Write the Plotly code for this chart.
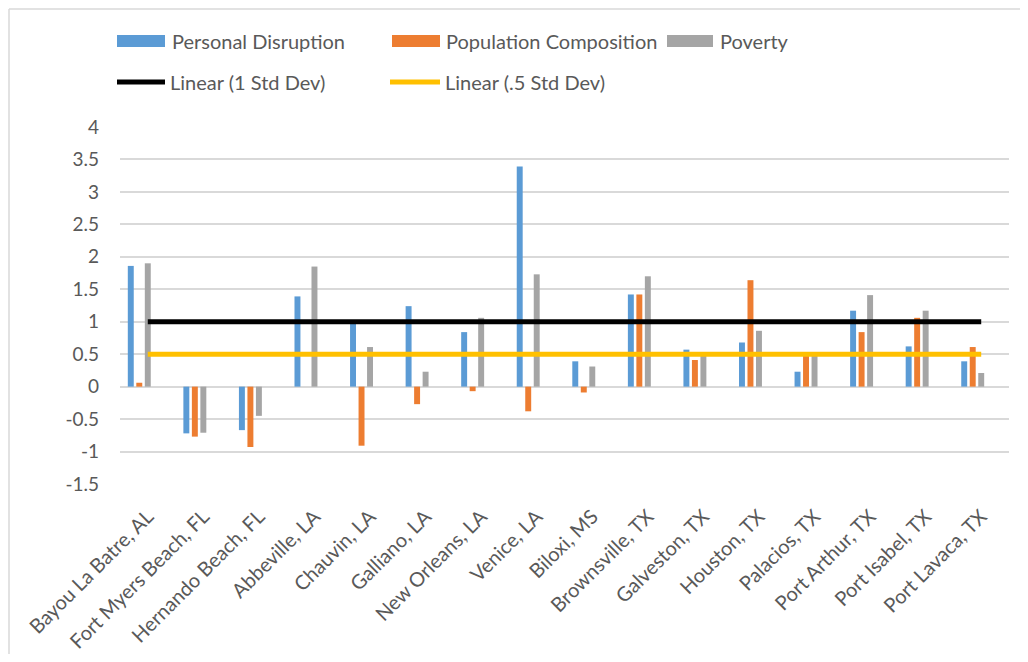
import plotly.graph_objects as go

categories = ["Bayou La Batre, AL", "Fort Myers Beach, FL", "Hernando Beach, FL", "Abbeville, LA",
              "Chauvin, LA", "Galliano, LA", "New Orleans, LA", "Venice, LA", "Biloxi, MS",
              "Brownsville, TX", "Galveston, TX", "Houston, TX", "Palacios, TX", "Port Arthur, TX",
              "Port Isabel, TX", "Port Lavaca, TX"]
personal_disruption = [1.86, -0.72, -0.67, 1.39, 0.99, 1.24, 0.84, 3.39, 0.39, 1.42, 0.57, 0.68, 0.23, 1.17, 0.62, 0.39]
population_composition = [0.06, -0.77, -0.93, 0.0, -0.91, -0.27, -0.07, -0.38, -0.09, 1.42, 0.41, 1.64, 0.50, 0.84, 1.06, 0.61]
poverty = [1.90, -0.71, -0.45, 1.85, 0.61, 0.23, 1.06, 1.73, 0.31, 1.70, 0.48, 0.86, 0.50, 1.41, 1.17, 0.21]
std_1 = [1, 1, 1, 1, 1, 1, 1, 1, 1, 1, 1, 1, 1, 1, 1, 1]
std_half = [0.5, 0.5, 0.5, 0.5, 0.5, 0.5, 0.5, 0.5, 0.5, 0.5, 0.5, 0.5, 0.5, 0.5, 0.5, 0.5]
y_tickvals = [-1.5, -1, -0.5, 0, 0.5, 1, 1.5, 2, 2.5, 3, 3.5, 4]
y_ticktext = ["-1.5", "-1", "-0.5", "0", "0.5", "1", "1.5", "2", "2.5", "3", "3.5", "4"]

BLUE, ORANGE, GRAY = "#5B9BD5", "#ED7D31", "#A5A5A5"
BLACK, YELLOW = "#000000", "#FFC000"
TXT = "#595959"
FONT = "Lato"
FS = 20

OFF = 8  # page body margin
W, H = 1028 - 2 * OFF, 662 - 2 * OFF
# plot area in screen pixels
SL, SR, ST, SB = 120, 1009, 127, 484
L, R, T, B = SL - OFF, SR - OFF, ST - OFF, SB - OFF

def px(x):  # screen x -> paper
    return (x - SL) / (SR - SL)

def py(y):  # screen y -> paper
    return (SB - y) / (SB - ST)

fig = go.Figure()
fig.add_trace(go.Bar(x=categories, y=personal_disruption, name="Personal Disruption", marker_color=BLUE))
fig.add_trace(go.Bar(x=categories, y=population_composition, name="Population Composition", marker_color=ORANGE))
fig.add_trace(go.Bar(x=categories, y=poverty, name="Poverty", marker_color=GRAY))
# the two std-dev series occupy bar slots (invisible), as in the source chart
fig.add_trace(go.Bar(x=categories, y=std_1, name="1 Std Dev", marker_color="rgba(0,0,0,0)", hoverinfo="skip"))
fig.add_trace(go.Bar(x=categories, y=std_half, name=".5 Std Dev", marker_color="rgba(0,0,0,0)", hoverinfo="skip"))
fig.add_trace(go.Scatter(x=categories, y=std_1, mode="lines", name="Linear (1 Std Dev)",
                         line=dict(color=BLACK, width=5)))
fig.add_trace(go.Scatter(x=categories, y=std_half, mode="lines", name="Linear (.5 Std Dev)",
                         line=dict(color=YELLOW, width=5)))

shapes = []
annotations = []
# outer chart frame: left and top edges
FR = "#D9D9D9"
shapes.append(dict(type="line", xref="paper", yref="paper", x0=px(OFF + 1), x1=px(OFF + 1),
                   y0=py(OFF + 1), y1=py(662), line=dict(color=FR, width=1.5), layer="below"))
shapes.append(dict(type="line", xref="paper", yref="paper", x0=px(OFF + 1), x1=px(1028),
                   y0=py(OFF + 1), y1=py(OFF + 1), line=dict(color=FR, width=1.5), layer="below"))

legend_items = [
    ("bar", BLUE, 117, 165, 41, 170, "Personal Disruption"),
    ("bar", ORANGE, 392, 440, 41, 444, "Population Composition"),
    ("bar", GRAY, 667, 713, 41, 718, "Poverty"),
    ("line", BLACK, 117, 165, 82, 168, "Linear (1 Std Dev)"),
    ("line", YELLOW, 390, 440, 82, 443, "Linear (.5 Std Dev)"),
]
for kind, col, x0, x1, yc, tx, label in legend_items:
    if kind == "bar":
        shapes.append(dict(type="rect", xref="paper", yref="paper", x0=px(x0), x1=px(x1),
                           y0=py(yc + 6), y1=py(yc - 6), line=dict(width=0), fillcolor=col))
    else:
        shapes.append(dict(type="line", xref="paper", yref="paper", x0=px(x0), x1=px(x1),
                           y0=py(yc), y1=py(yc), line=dict(color=col, width=5)))
    annotations.append(dict(xref="paper", yref="paper", x=px(tx), y=py(yc), text=label,
                            showarrow=False, xanchor="left", yanchor="middle",
                            font=dict(family=FONT, size=FS, color=TXT)))

fig.update_layout(
    template="none",
    width=W, height=H,
    margin=dict(l=L, r=W - R, t=T, b=H - B, pad=0),
    paper_bgcolor="white", plot_bgcolor="white",
    barmode="group", bargap=0.235, bargroupgap=0.3,
    showlegend=False,
    font=dict(family=FONT, size=FS, color=TXT),
    shapes=shapes, annotations=annotations,
    xaxis=dict(type="category", tickangle=-45, showgrid=False, zeroline=False, showline=False,
               ticks="", tickfont=dict(family=FONT, size=FS, color=TXT), ticklabelstandoff=16),
    yaxis=dict(range=[-1.5, 4], tickvals=y_tickvals, ticktext=y_ticktext, showgrid=True,
               gridcolor="#D9D9D9", gridwidth=1.5, zeroline=True, zerolinecolor="#D9D9D9",
               zerolinewidth=1.5, showline=False, ticks="", ticklabelstandoff=20,
               tickfont=dict(family=FONT, size=19, color=TXT)),
)

fig.write_html("out.html")
